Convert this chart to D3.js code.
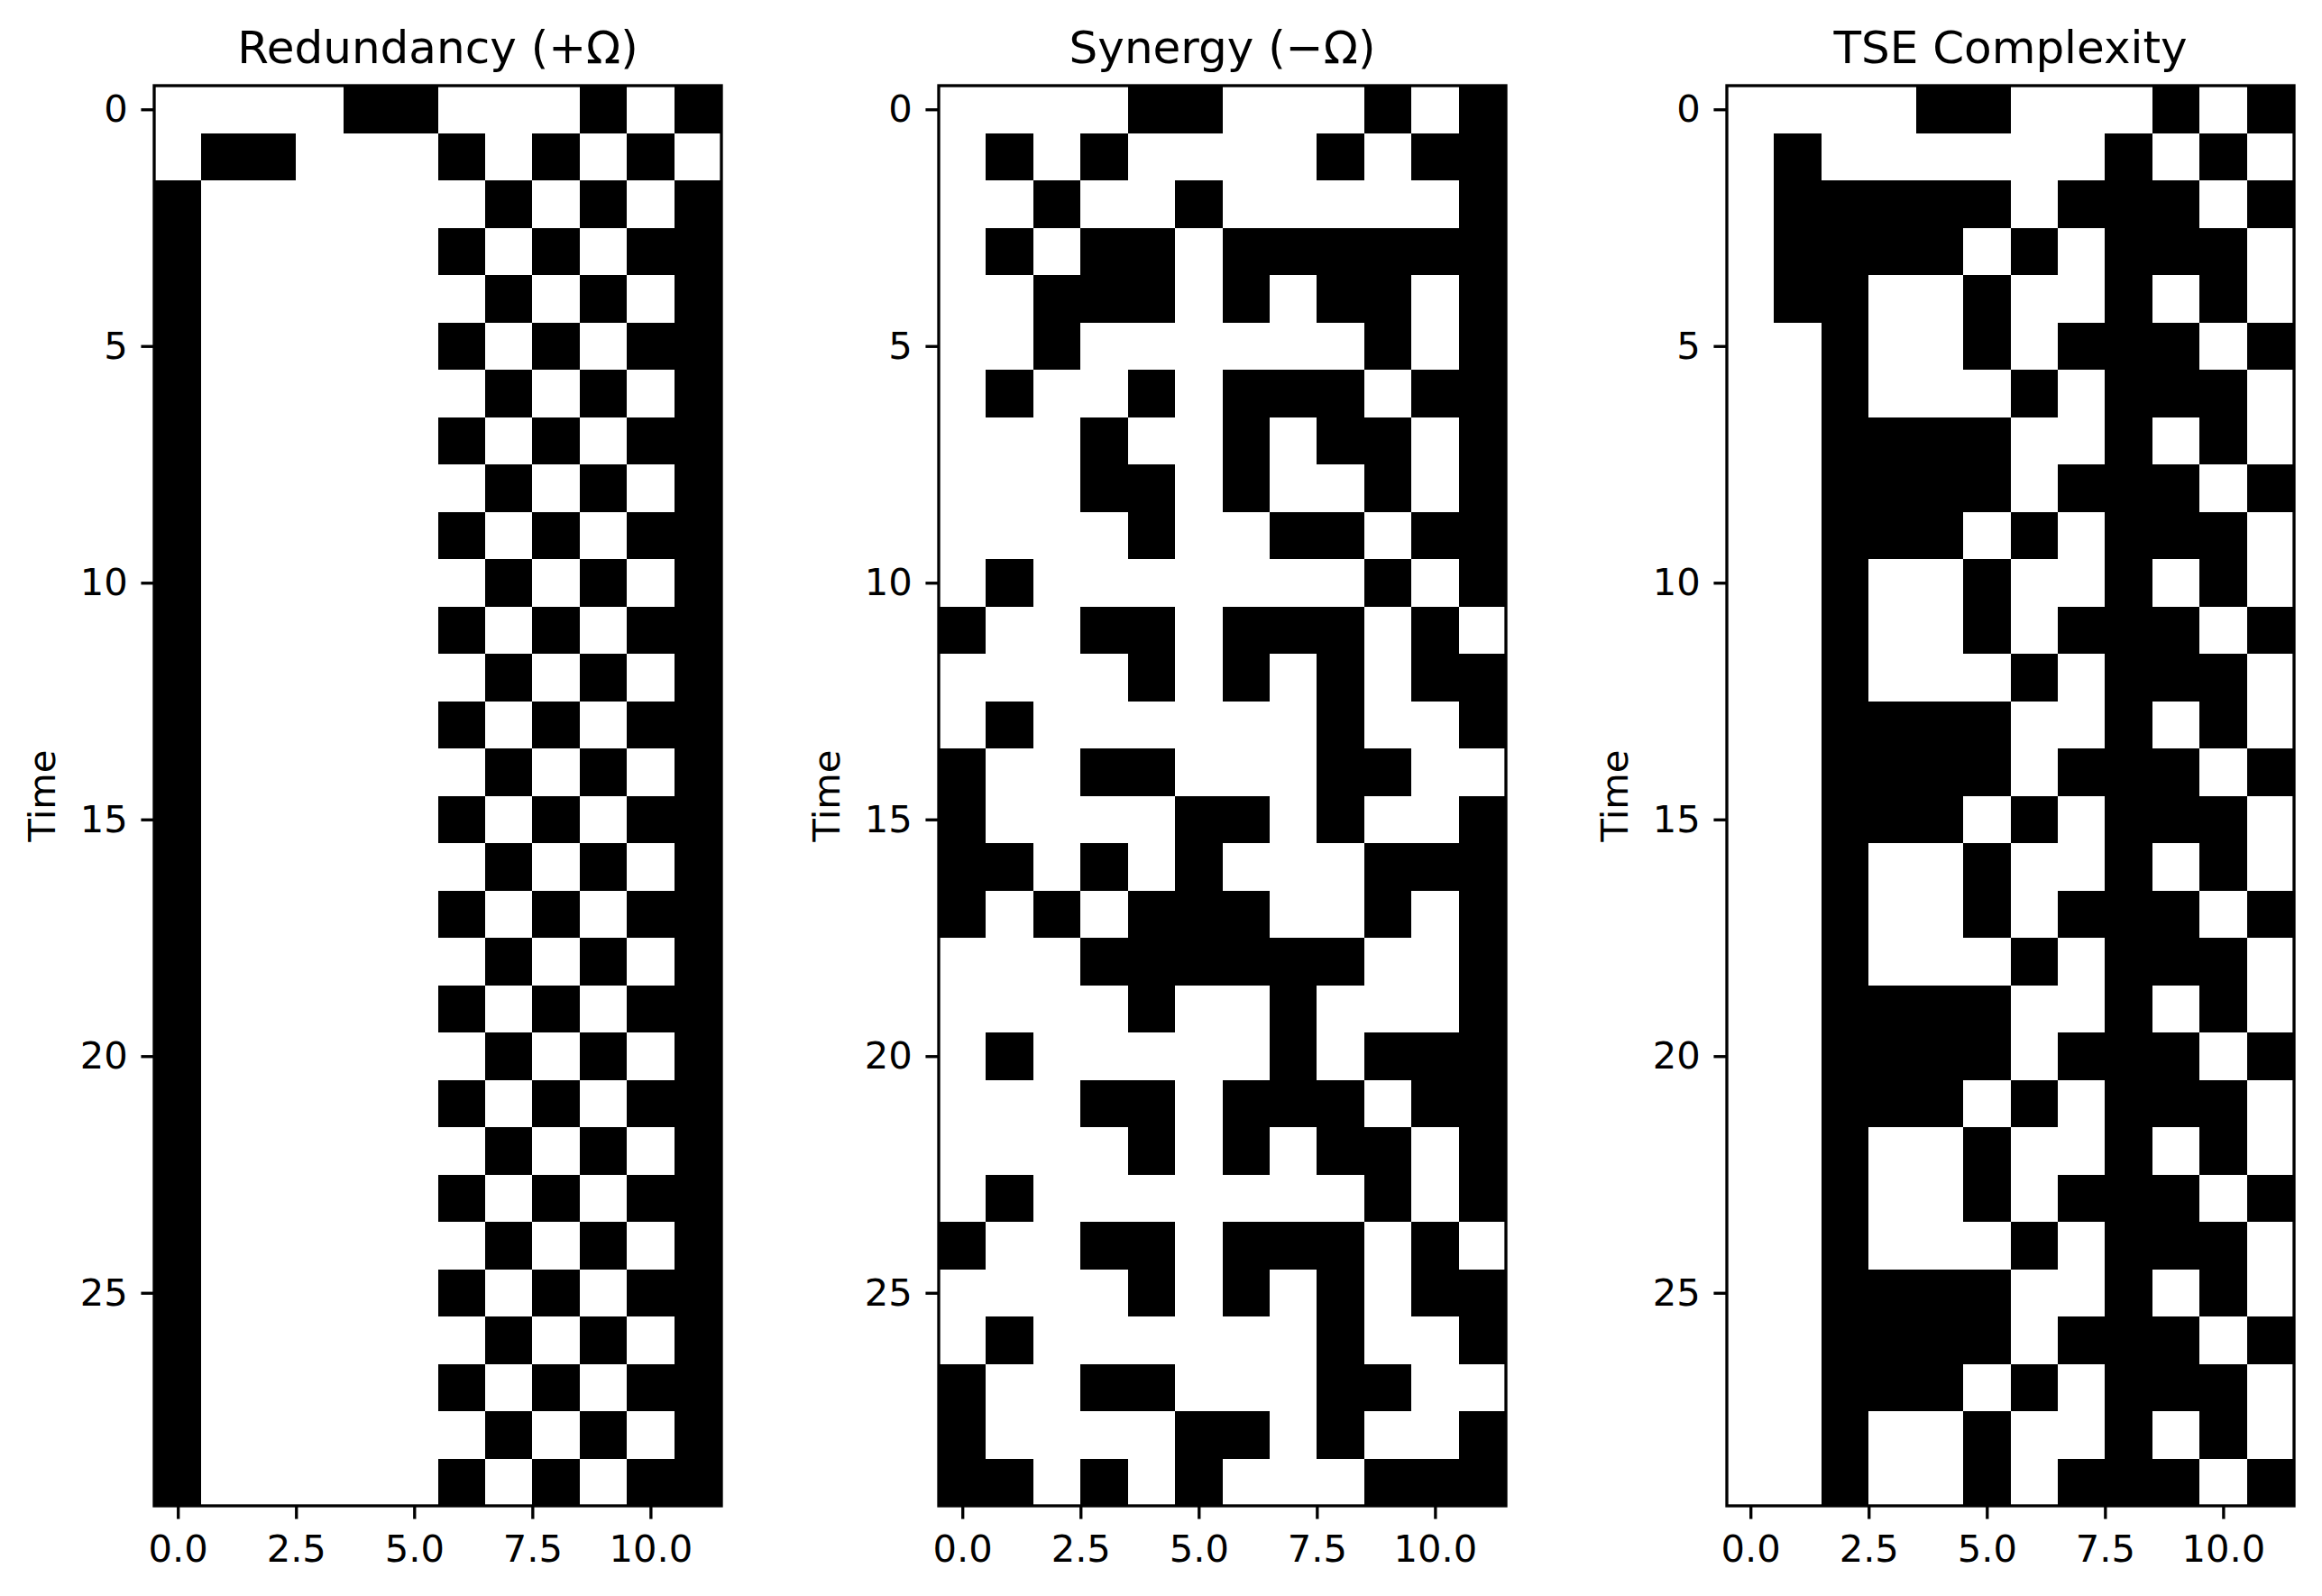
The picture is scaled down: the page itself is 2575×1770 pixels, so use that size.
<!DOCTYPE html>
<html>
<head>
<meta charset="utf-8">
<script src="https://cdn.jsdelivr.net/npm/d3@7"></script>
<style>
  html, body { margin: 0; padding: 0; background: #fff; }
  svg { display: block; font-family: "DejaVu Sans", sans-serif; }
</style>
</head>
<body>
<div id="chart"></div>
<script>
// panel titles
var titles = ['Redundancy (+\u03A9)', 'Synergy (\u2212\u03A9)', 'TSE Complexity'];

// each string is one time step (row), one char per column: 1 = black cell
var redundancyRows = [
    '000011000101',
    '011000101010',
    '100000010101',
    '100000101011',
    '100000010101',
    '100000101011',
    '100000010101',
    '100000101011',
    '100000010101',
    '100000101011',
    '100000010101',
    '100000101011',
    '100000010101',
    '100000101011',
    '100000010101',
    '100000101011',
    '100000010101',
    '100000101011',
    '100000010101',
    '100000101011',
    '100000010101',
    '100000101011',
    '100000010101',
    '100000101011',
    '100000010101',
    '100000101011',
    '100000010101',
    '100000101011',
    '100000010101',
    '100000101011'
];

var synergyRows = [
    '000011000101',
    '010100001011',
    '001001000001',
    '010110111111',
    '001110101101',
    '001000000101',
    '010010111011',
    '000100101101',
    '000110100101',
    '000010011011',
    '010000000101',
    '100110111010',
    '000010101011',
    '010000001001',
    '100110001100',
    '100001101001',
    '110101000111',
    '101011100101',
    '000111111001',
    '000010010001',
    '010000010111',
    '000110111011',
    '000010101101',
    '010000000101',
    '100110111010',
    '000010101011',
    '010000001001',
    '100110001100',
    '100001101001',
    '110101000111'
];

var tseRows = [
    '000011000101',
    '010000001010',
    '011111011101',
    '011110101110',
    '011001001010',
    '001001011101',
    '001000101110',
    '001111001010',
    '001111011101',
    '001110101110',
    '001001001010',
    '001001011101',
    '001000101110',
    '001111001010',
    '001111011101',
    '001110101110',
    '001001001010',
    '001001011101',
    '001000101110',
    '001111001010',
    '001111011101',
    '001110101110',
    '001001001010',
    '001001011101',
    '001000101110',
    '001111001010',
    '001111011101',
    '001110101110',
    '001001001010',
    '001001011101'
];

var xTicks = [0, 2.5, 5, 7.5, 10];
var yTicks = [0, 5, 10, 15, 20, 25];
var yLabel = 'Time';

var width = 2575, height = 1770;
var pt = 300 / 72;
var panelLeft = [171, 1041, 1915],
    panelTop = 95,
    panelW = 629,
    panelH = 1575;

var svg = d3.select('#chart').append('svg')
    .attr('width', width)
    .attr('height', height)
    .attr('viewBox', '0 0 ' + width + ' ' + height);

svg.append('rect').attr('width', width).attr('height', height).attr('fill', '#fff');

function drawPanel(idx, rows) {
    var nRows = rows.length, nCols = rows[0].length;
    var cells = [];
    rows.forEach(function (r, i) {
        r.split('').forEach(function (c, j) {
            cells.push({ row: i, col: j, v: +c });
        });
    });

    var x = d3.scaleLinear().domain([-0.5, nCols - 0.5]).range([0, panelW]);
    var y = d3.scaleLinear().domain([-0.5, nRows - 0.5]).range([0, panelH]);
    var color = d3.scaleOrdinal().domain([0, 1]).range(['#ffffff', '#000000']);

    var g = svg.append('g')
        .attr('transform', 'translate(' + panelLeft[idx] + ',' + panelTop + ')');

    g.append('g').selectAll('rect')
        .data(cells)
        .join('rect')
        .attr('x', function (d) { return x(d.col - 0.5); })
        .attr('y', function (d) { return y(d.row - 0.5); })
        .attr('width', x(1) - x(0))
        .attr('height', y(1) - y(0))
        .attr('fill', function (d) { return color(d.v); })
        .attr('shape-rendering', 'crispEdges');

    var tickLen = 3.5 * pt, tickPad = 3.5 * pt, lw = 0.8 * pt;

    var xAxis = g.append('g')
        .attr('transform', 'translate(0,' + panelH + ')')
        .call(d3.axisBottom(x).tickValues(xTicks).tickFormat(d3.format('.1f'))
            .tickSize(tickLen).tickPadding(tickPad));
    var yAxis = g.append('g')
        .call(d3.axisLeft(y).tickValues(yTicks).tickFormat(d3.format('d'))
            .tickSize(tickLen).tickPadding(tickPad));

    [xAxis, yAxis].forEach(function (ax) {
        ax.select('.domain').remove();
        ax.selectAll('.tick line').attr('stroke', '#000').attr('stroke-width', lw);
        ax.selectAll('.tick text')
            .attr('fill', '#000')
            .style('font-size', (10 * pt) + 'px')
            .style('font-family', '"DejaVu Sans", sans-serif');
    });
    xAxis.selectAll('.tick text').attr('dy', '0.78em');

    // frame
    g.append('rect')
        .attr('width', panelW)
        .attr('height', panelH)
        .attr('fill', 'none')
        .attr('stroke', '#000')
        .attr('stroke-width', lw);

    g.append('text')
        .attr('x', panelW / 2)
        .attr('y', -6 * pt)
        .attr('text-anchor', 'middle')
        .style('font-size', (12 * pt) + 'px')
        .text(titles[idx]);

    g.append('text')
        .attr('transform', 'translate(' + (-110) + ',' + (panelH / 2) + ') rotate(-90)')
        .attr('text-anchor', 'middle')
        .style('font-size', (10 * pt) + 'px')
        .text(yLabel);
}

drawPanel(0, redundancyRows);
drawPanel(1, synergyRows);
drawPanel(2, tseRows);
</script>
</body>
</html>
